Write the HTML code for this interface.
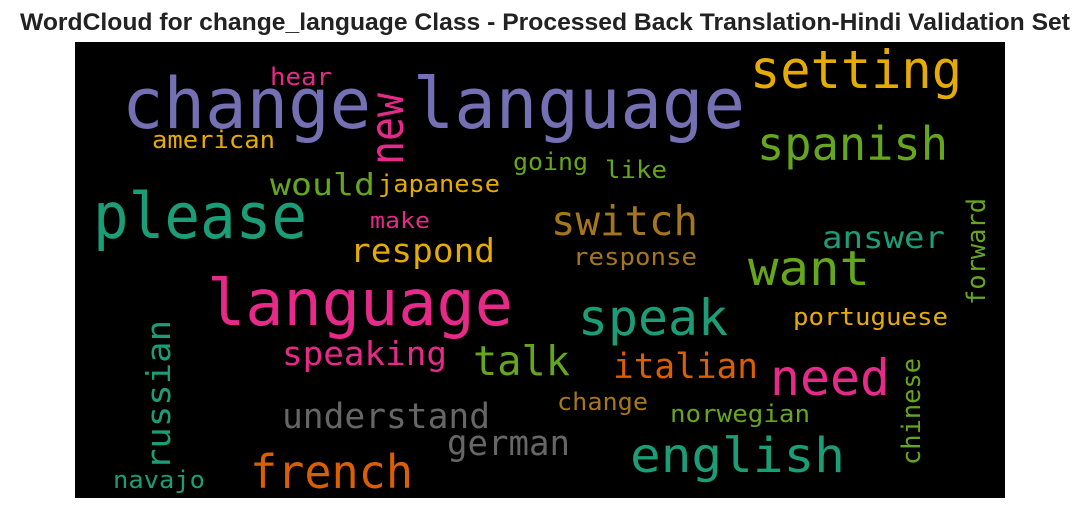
<!DOCTYPE html>
<html><head><meta charset="utf-8"><style>
html,body{margin:0;padding:0;background:#fff;width:1080px;height:511px;overflow:hidden}
svg{display:block}
</style></head><body>
<svg id="chart" width="1080" height="511" xmlns="http://www.w3.org/2000/svg">
<text x="20" y="30" textLength="1050" lengthAdjust="spacingAndGlyphs" font-family="Liberation Sans, sans-serif" font-weight="bold" font-size="24.5" fill="#222">WordCloud for change_language Class - Processed Back Translation-Hindi Validation Set</text>
<rect x="75" y="42" width="930" height="456" fill="#000"/>
<g id="words"></g>
</svg>
<script>
const words = ["change language","setting","new","hear","american","spanish","going","like","would","japanese","please","make","switch","answer","forward","respond","response","want","language","speak","portuguese","russian","speaking","talk","italian","need","chinese","understand","change","norwegian","german","english","french","navajo"];
const sizes = [70,53,46,24,24,46,24,24,30,24,63,22,41,30,26,33,24,48,64,50,24,33,33,41,35,50,26,35,24,24,35,48,46,24];
const colors = ["#7570b3","#e6ab02","#e7298a","#e7298a","#e6ab02","#66a61e","#66a61e","#66a61e","#66a61e","#e6ab02","#1b9e77","#e7298a","#a6761d","#1b9e77","#66a61e","#e6ab02","#a6761d","#66a61e","#e7298a","#1b9e77","#e6ab02","#1b9e77","#e7298a","#66a61e","#d95f02","#e7298a","#66a61e","#666666","#a6761d","#66a61e","#666666","#1b9e77","#d95f02","#1b9e77"];
const vertical = [0,0,1,0,0,0,0,0,0,0,0,0,0,0,1,0,0,0,0,0,0,1,0,0,0,0,1,0,0,0,0,0,0,0];
// layout: [x, baselineY, length]
const layout = [[122,128,623],[750,88,212],[403,165,72],[270,85,62],[152,148,123],[757,160,191],[513,170,75],[605,178,62],[270,195,105],[378,192,122],[93,238,214],[370,228,60],[551,235,147],[822,248,123],[985,305,107],[350,262,145],[573,265,124],[748,285,122],[207,325,306],[578,335,150],[793,325,155],[170,470,150],[282,365,165],[473,375,97],[613,378,145],[770,395,120],[920,465,107],[282,428,208],[557,410,91],[670,422,140],[447,455,123],[630,472,215],[250,488,163],[113,488,92]];
const g = document.getElementById('words');
const NS = "http://www.w3.org/2000/svg";
words.forEach((w,i)=>{
  const t = document.createElementNS(NS,'text');
  
  
  const [x,y,len] = layout[i];
  if (vertical[i]) {
    t.setAttribute('transform','translate('+x+','+y+') rotate(-90)');
  } else {
    t.setAttribute('x',x); t.setAttribute('y',y);
  }
  t.setAttribute('font-family','"DejaVu Sans Mono","Liberation Mono",monospace');
  t.setAttribute('font-size',sizes[i]);
  t.setAttribute('fill',colors[i]);
  t.setAttribute('textLength',len);
  t.setAttribute('lengthAdjust','spacingAndGlyphs');
  t.textContent = w;
  g.appendChild(t);
});
</script>
</body></html>
